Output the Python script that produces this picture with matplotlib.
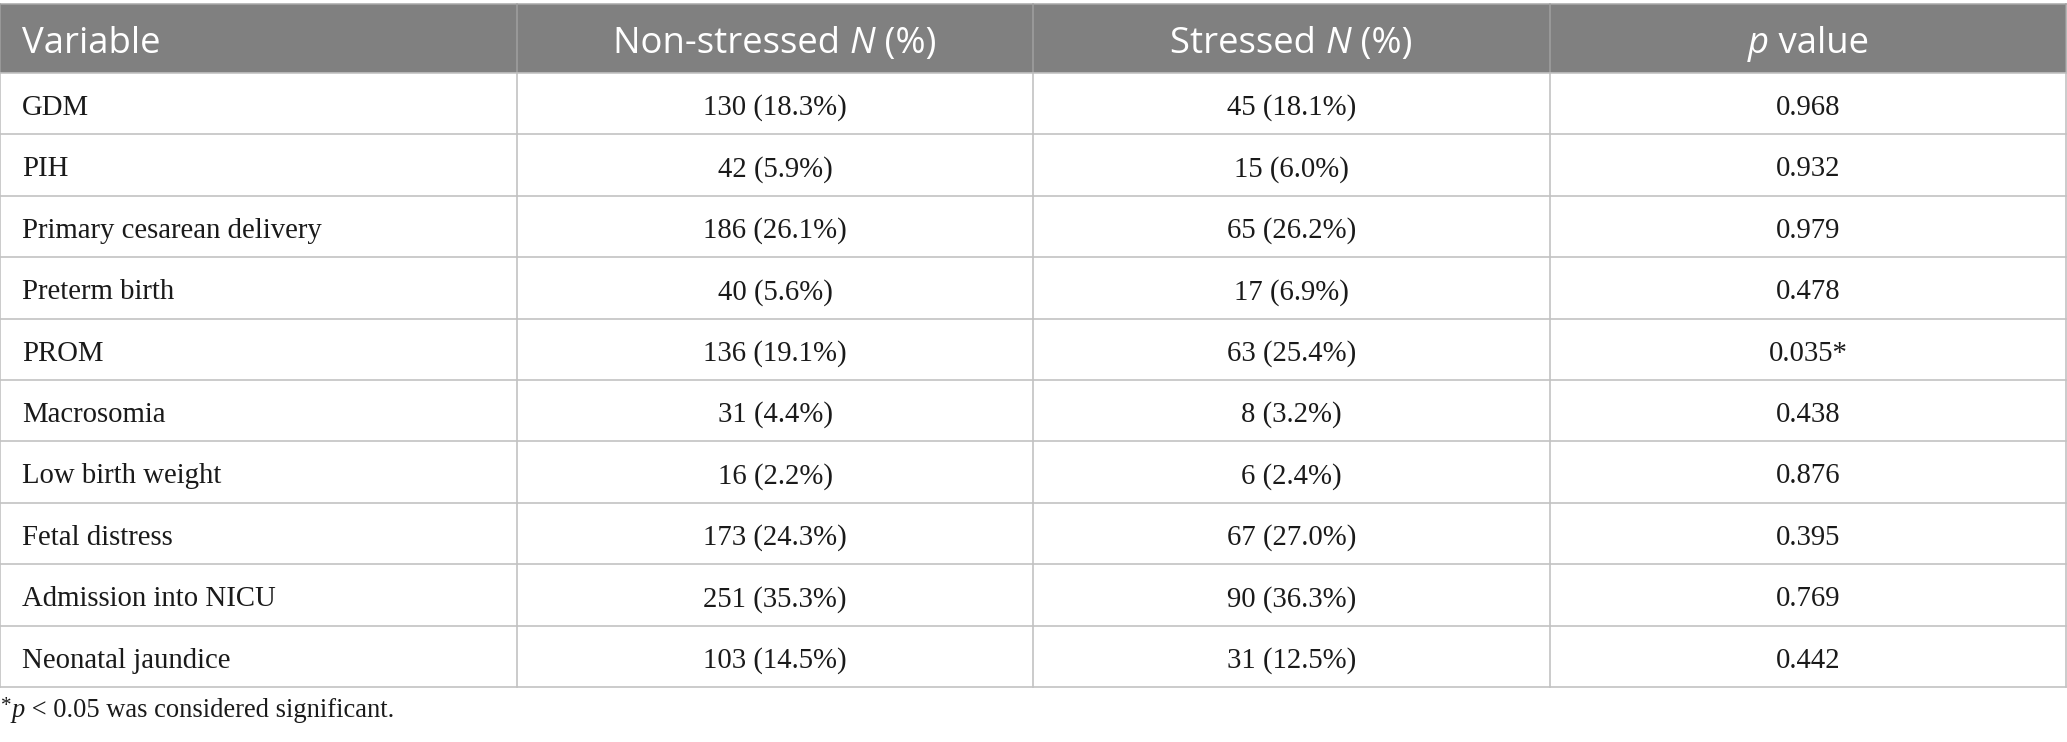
import matplotlib
matplotlib.use("Agg")
import matplotlib.pyplot as plt
from matplotlib.font_manager import FontProperties
from matplotlib.patches import Rectangle

# ---------------- data ----------------
headers = ["Variable", "Non-stressed N (%)", "Stressed N (%)", "p value"]
variables = ["GDM", "PIH", "Primary cesarean delivery", "Preterm birth", "PROM",
             "Macrosomia", "Low birth weight", "Fetal distress",
             "Admission into NICU", "Neonatal jaundice"]
non_stressed_n = [130, 42, 186, 40, 136, 31, 16, 173, 251, 103]
non_stressed_pct = [18.3, 5.9, 26.1, 5.6, 19.1, 4.4, 2.2, 24.3, 35.3, 14.5]
stressed_n = [45, 15, 65, 17, 63, 8, 6, 67, 90, 31]
stressed_pct = [18.1, 6.0, 26.2, 6.9, 25.4, 3.2, 2.4, 27.0, 36.3, 12.5]
p_values = [0.968, 0.932, 0.979, 0.478, 0.035, 0.438, 0.876, 0.395, 0.769, 0.442]
footnote = "p < 0.05 was considered significant."

# ---------------- layout ----------------
W, H = 2067, 742
DPI = 100
fig = plt.figure(figsize=(W / DPI, H / DPI), dpi=DPI)
ax = fig.add_axes([0, 0, 1, 1])
ax.set_xlim(0, W)
ax.set_ylim(H, 0)
ax.axis("off")

col_edges = [0, 517, 1033, 1550, 2066]
table_top = 4
header_h = 69
row_h = 61.4
header_bg = "#808080"
grid_col = "#c2c2c2"
text_col = "#1a1a1a"

px = 72.0 / DPI  # points per pixel
hdr_fp = FontProperties(family="Open Sans", size=36.5 * px)
hdr_fp_i = FontProperties(family="Open Sans", style="italic", size=36.5 * px)
body_fp = FontProperties(family="Liberation Serif", size=28.7 * px)
foot_fp = FontProperties(family="Liberation Serif", size=26.5 * px)
foot_fp_i = FontProperties(family="Liberation Serif", style="italic", size=26.5 * px)
star_fp = FontProperties(family="Liberation Serif", size=21 * px)

renderer = fig.canvas.get_renderer()


def adv(s, fp):
    w1, _, _ = renderer.get_text_width_height_descent("x" + s + "x", fp, ismath=False)
    w0, _, _ = renderer.get_text_width_height_descent("xx", fp, ismath=False)
    return w1 - w0


def runs_text(x, y, runs, ha="left", color=text_col):
    widths = [adv(s, fp) for s, fp, _ in runs]
    total = sum(widths)
    x0 = x - total / 2 if ha == "center" else x
    for (s, fp, dy), w in zip(runs, widths):
        ax.text(x0, y + dy, s, fontproperties=fp, color=color,
                ha="left", va="baseline")
        x0 += w


# header background
ax.add_patch(Rectangle((col_edges[0], table_top), col_edges[-1] - col_edges[0], header_h,
                       facecolor=header_bg, edgecolor="none", zorder=0))

n_rows = len(variables)
y_rows = [table_top + header_h + i * row_h for i in range(n_rows + 1)]
bottom = y_rows[-1]

# grid lines
ax.plot([col_edges[0], col_edges[-1]], [table_top, table_top], color="#a8a8a8", lw=1.1)
for y in y_rows:
    ax.plot([col_edges[0], col_edges[-1]], [y, y], color=grid_col, lw=1.2)
for x in col_edges:
    ax.plot([x, x], [table_top, table_top + header_h], color="#a0a0a0", lw=1.1)
    ax.plot([x, x], [table_top + header_h, bottom], color=grid_col, lw=1.2)

# header text
hb = table_top + 49
centers = [(col_edges[i] + col_edges[i + 1]) / 2 for i in range(4)]
runs_text(22, hb, [("Variable", hdr_fp, 0)], ha="left", color="white")
runs_text(centers[1], hb, [("Non-stressed ", hdr_fp, 0), ("N", hdr_fp_i, 0), (" (%)", hdr_fp, 0)],
          ha="center", color="white")
runs_text(centers[2], hb, [("Stressed ", hdr_fp, 0), ("N", hdr_fp_i, 0), (" (%)", hdr_fp, 0)],
          ha="center", color="white")
runs_text(centers[3], hb, [("p", hdr_fp_i, 0), (" value", hdr_fp, 0)],
          ha="center", color="white")

# body
for i in range(n_rows):
    base = y_rows[i] + 42
    ax.text(22, base, variables[i], fontproperties=body_fp, color=text_col,
            ha="left", va="baseline")
    ax.text(centers[1], base, f"{non_stressed_n[i]} ({non_stressed_pct[i]:.1f}%)",
            fontproperties=body_fp, color=text_col, ha="center", va="baseline")
    ax.text(centers[2], base, f"{stressed_n[i]} ({stressed_pct[i]:.1f}%)",
            fontproperties=body_fp, color=text_col, ha="center", va="baseline")
    ptxt = f"{p_values[i]:.3f}" + ("*" if p_values[i] < 0.05 else "")
    ax.text(centers[3], base, ptxt, fontproperties=body_fp, color=text_col,
            ha="center", va="baseline")

# footnote
parts = footnote.split(" ", 1)
runs_text(1, 717, [("*", star_fp, -6), (parts[0], foot_fp_i, 0), (" " + parts[1], foot_fp, 0)],
          ha="left")

fig.savefig("out.png", dpi=DPI)
